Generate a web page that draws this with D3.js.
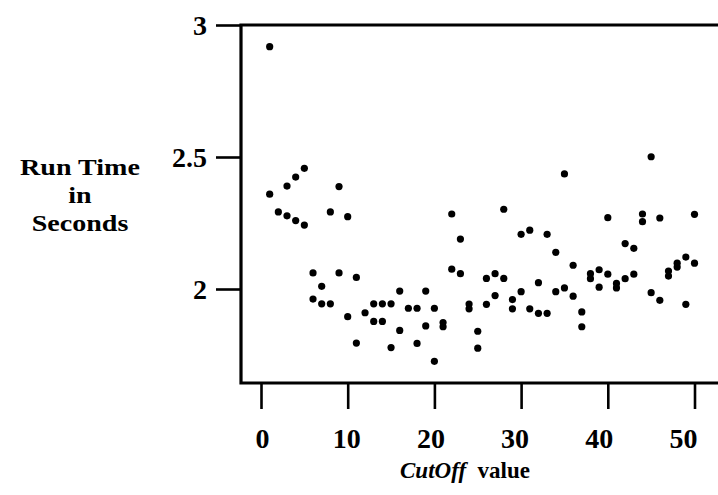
<!DOCTYPE html>
<html><head><meta charset="utf-8">
<script src="https://cdn.jsdelivr.net/npm/d3@7"></script>
<style>body{margin:0;background:#fff}svg{display:block}text{font-family:"Liberation Serif","Times New Roman",serif;font-weight:bold;fill:#000}</style>
</head><body><svg id="c" width="718" height="495"></svg>
<script>
const cutoffs = d3.range(1, 51);
const runA = [2.918,2.292,2.390,2.424,2.457,2.061,2.010,2.292,2.388,2.274,2.044,1.910,1.944,1.944,1.944,1.992,1.927,1.927,1.992,1.927,1.873,2.284,2.189,1.943,1.840,2.040,2.058,2.302,1.960,2.207,2.223,2.024,2.207,2.139,2.436,2.090,1.913,2.058,2.073,2.270,2.021,2.172,2.154,2.284,2.501,2.269,2.068,2.098,2.121,2.283];
const runB = [2.359,null,2.277,2.259,2.242,1.962,1.944,1.944,2.061,1.895,1.795,null,1.877,1.877,1.778,1.843,null,1.794,1.860,1.726,1.857,2.075,2.058,1.925,1.776,1.942,1.975,2.040,1.925,1.990,1.925,1.908,1.908,1.990,2.004,1.973,1.857,2.039,2.007,2.056,2.004,2.039,2.056,2.255,1.986,1.957,2.049,2.083,1.942,2.098];
const xTicks = [0,10,20,30,40,50];
const yTicks = [2,2.5,3];
const yTickLabels = ["2","2.5","3"];

const svg = d3.select("#c");
const x = d3.scaleLinear().domain([0,50]).range([261,694.5]);
// the printed tick labels sit slightly left of their ticks, increasingly so to the right
const xLabel = d3.scaleLinear().domain([0,50]).range([262,683]);
const y = d3.scaleLinear().domain([2,3]).range([289,25]);
const xMin = x.invert(241), xMax = x.invert(730);
const yMin = y.invert(383);

const pts = [];
cutoffs.forEach((c,i)=>{ if(runA[i]!=null) pts.push([c,runA[i]]); if(runB[i]!=null) pts.push([c,runB[i]]); });

// frame: left, top, bottom lines
svg.append("path")
  .attr("d", `M${x(xMax)},${y(3)} L${x(xMin)},${y(3)} L${x(xMin)},${y(yMin)} L${x(xMax)},${y(yMin)}`)
  .attr("fill","none").attr("stroke","#000").attr("stroke-width",3.2);

// y axis
const yAxis = d3.axisLeft(y).tickValues(yTicks).tickSize(25).tickPadding(9)
  .tickFormat((d,i)=>yTickLabels[i]);
const gy = svg.append("g").attr("transform",`translate(${x(xMin)},0)`).call(yAxis);
gy.select(".domain").remove();
gy.selectAll(".tick line").attr("stroke","#000").attr("stroke-width",2.6);
gy.selectAll(".tick text").attr("font-size",28).attr("dy","0.34em");

// x axis
const xAxis = d3.axisBottom(x).tickValues(xTicks).tickSize(26).tickPadding(19);
const gx = svg.append("g").attr("transform",`translate(0,${y(yMin)})`).call(xAxis);
gx.select(".domain").remove();
gx.selectAll(".tick line").attr("stroke","#000").attr("stroke-width",2.6);
gx.selectAll(".tick text").attr("font-size",28).attr("dx",d=>xLabel(d)-x(d));

// points
svg.append("g").selectAll("circle").data(pts).join("circle")
  .attr("cx",d=>x(d[0])).attr("cy",d=>y(d[1])).attr("r",3.6).attr("fill","#000");

// y title (wide printed face: stretched horizontally)
const yTitle = ["Run Time","in","Seconds"];
const yt = svg.append("g").attr("transform","translate(80,0) scale(1.22,1)");
yt.selectAll("text").data(yTitle).join("text")
  .attr("x",0).attr("y",(d,i)=>175+i*28)
  .attr("text-anchor","middle").attr("font-size",23).text(d=>d);

// x title
const xt = svg.append("text").attr("x",465).attr("y",478).attr("text-anchor","middle").attr("font-size",23);
xt.append("tspan").attr("font-style","italic").text("CutOff");
xt.append("tspan").text("\u2002value");
</script></body></html>
